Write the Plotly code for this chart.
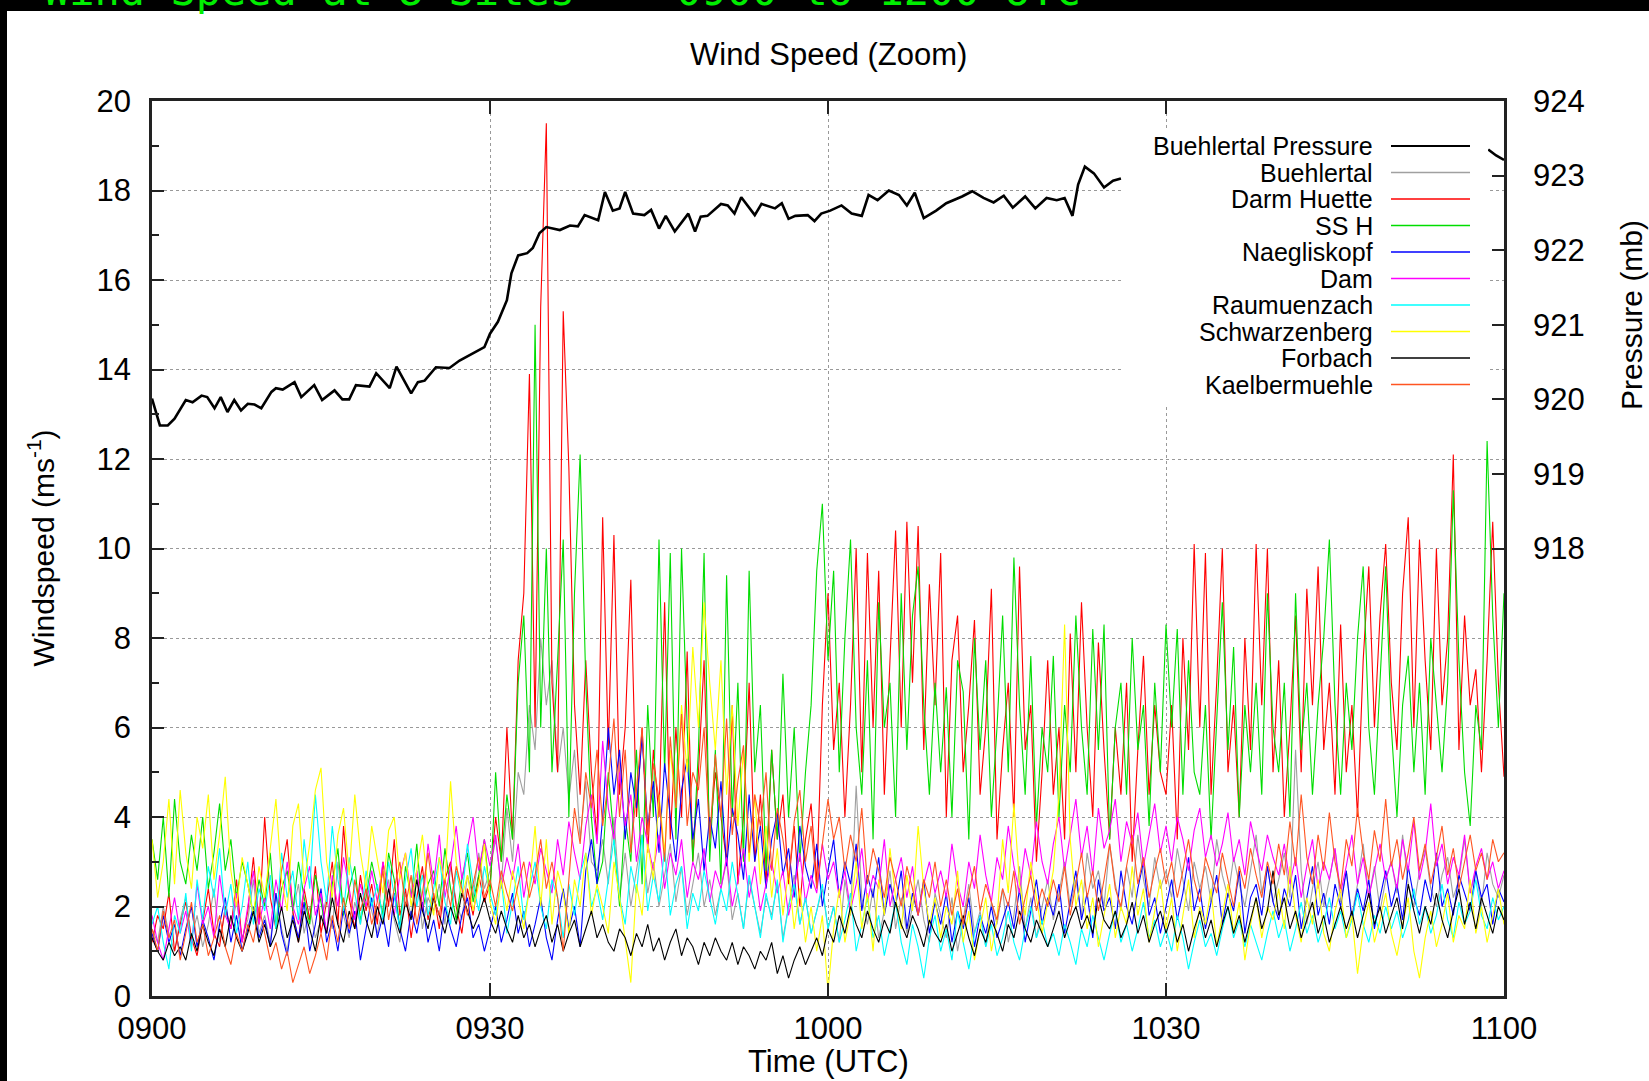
import plotly.graph_objects as go

# ---------------- data ----------------
# time axis for wind records: minutes after 09:00 UTC, 30 s sampling
t_wind = [i * 0.5 for i in range(241)]

x_tickvals = [0, 30, 60, 90, 120]
x_ticktext = ["0900", "0930", "1000", "1030", "1100"]
y_tickvals = [0, 2, 4, 6, 8, 10, 12, 14, 16, 18, 20]
y2_tickvals = [918, 919, 920, 921, 922, 923, 924]

series_names = ["Buehlertal Pressure", "Buehlertal", "Darm Huette", "SS H", "Naegliskopf",
                "Dam", "Raumuenzach", "Schwarzenberg", "Forbach", "Kaelbermuehle"]

pressure_time = [0, 0.7, 1.4, 2.0, 3.0, 3.6, 4.4, 4.9, 5.55, 6.1,
                 6.7, 7.3, 7.9, 8.5, 9.1, 9.7, 10.6, 11.0, 11.6, 12.65,
                 13.25, 14.4, 15.1, 16.2, 16.9, 17.5, 18.1, 19.3, 19.9, 21.1,
                 21.7, 23.0, 23.6, 24.2, 25.2, 26.4, 27.3, 28.5, 29.5, 30.0,
                 30.7, 31.5, 31.9, 32.5, 33.3, 33.8, 34.4, 35.0, 36.2, 37.1,
                 37.8, 38.4, 39.6, 40.2, 40.9, 41.5, 42.0, 42.7, 43.7, 44.3,
                 45.0, 45.6, 46.4, 47.6, 48.2, 48.7, 49.3, 50.5, 51.1, 51.7,
                 52.3, 53.5, 54.1, 55.3, 55.9, 56.5, 57.1, 58.2, 58.8, 59.4,
                 60.2, 61.2, 62.1, 63.0, 63.6, 64.4, 65.4, 66.3, 67.0, 67.7,
                 68.5, 69.6, 70.5, 71.9, 72.8, 73.8, 74.7, 75.6, 76.4, 77.5,
                 78.4, 79.4, 80.3, 81.0, 81.7, 82.2, 82.8, 83.6, 84.5, 85.3,
                 86.0, 102.0, 118.6, 119.3, 120.0]
pressure_mb = [920.01, 919.65, 919.65, 919.74, 919.99, 919.96, 920.05, 920.03, 919.88, 920.03,
               919.83, 919.99, 919.85, 919.94, 919.93, 919.88, 920.10, 920.15, 920.13, 920.23,
               920.03, 920.19, 919.99, 920.12, 920.00, 920.00, 920.19, 920.17, 920.35, 920.15,
               920.44, 920.08, 920.23, 920.25, 920.43, 920.42, 920.52, 920.62, 920.70, 920.88,
               921.04, 921.33, 921.69, 921.93, 921.96, 922.03, 922.23, 922.31, 922.27, 922.33,
               922.32, 922.47, 922.40, 922.78, 922.53, 922.56, 922.78, 922.49, 922.47, 922.54,
               922.29, 922.46, 922.25, 922.49, 922.25, 922.45, 922.46, 922.62, 922.60, 922.49,
               922.71, 922.47, 922.62, 922.56, 922.63, 922.42, 922.46, 922.47, 922.39, 922.49,
               922.53, 922.60, 922.49, 922.46, 922.74, 922.67, 922.80, 922.74, 922.60, 922.77,
               922.43, 922.53, 922.63, 922.72, 922.79, 922.70, 922.64, 922.73, 922.57, 922.72,
               922.56, 922.70, 922.67, 922.70, 922.46, 922.88, 923.12, 923.03, 922.84, 922.93,
               922.96, None, 923.35, 923.27, 923.21]

buehlertal = [
    1.5, 1.2, 2.0, 1.4, 1.0, 1.7, 2.2, 1.3, 1.8, 1.1, 1.6, 2.4, 1.2, 1.9, 1.5, 2.1, 1.3, 1.7, 2.6, 1.4,
    1.8, 1.2, 2.3, 1.5, 1.0, 1.9, 2.5, 1.4, 2.0, 1.3, 1.7, 2.2, 1.5, 3.0, 1.8, 1.3, 2.1, 1.6, 2.4, 1.9,
    1.4, 2.0, 2.6, 1.7, 1.2, 2.3, 1.8, 2.8, 1.5, 2.2, 1.9, 2.5, 1.6, 2.9, 2.1, 1.7, 2.7, 2.2, 3.2, 2.4,
    2.8, 3.5, 2.5, 4.2, 3.0, 5.0, 4.5, 6.5, 5.5, 8.0, 6.5, 7.5, 5.0, 6.0, 4.4, 5.5, 3.5, 4.8, 3.0, 2.8,
    3.5, 2.5, 4.0, 2.2, 3.2, 2.0, 2.8, 3.6, 2.3, 3.0, 2.0, 2.7, 3.4, 2.1, 2.9, 1.8, 2.5, 3.2, 2.0, 2.6,
    1.8, 2.4, 3.0, 1.7, 2.3, 1.5, 2.6, 2.0, 1.4, 2.2, 1.8, 2.5, 1.3, 2.0, 2.7, 1.6, 2.2, 1.4, 1.9, 2.4,
    1.5, 2.0, 1.2, 2.6, 1.8, 4.7, 2.2, 1.6, 2.4, 1.3, 1.9, 2.8, 1.5, 2.2, 1.4, 2.0, 2.6, 1.7, 1.2, 2.3,
    1.8, 1.3, 2.2, 1.0, 1.7, 2.5, 1.4, 1.9, 1.1, 2.1, 1.6, 2.4, 1.2, 1.8, 2.9, 1.5, 2.2, 1.3, 2.0, 2.6,
    1.7, 2.3, 3.0, 2.0, 2.6, 1.8, 3.2, 2.4, 2.8, 2.0, 3.4, 2.5, 1.9, 2.9, 2.2, 3.6, 2.6, 2.0, 3.1, 2.4,
    2.8, 2.2, 3.3, 2.6, 1.9, 3.0, 2.4, 2.9, 2.1, 3.5, 2.7, 2.2, 3.1, 2.5, 2.0, 2.8, 3.6, 2.3, 2.9, 2.1,
    2.6, 3.2, 2.2, 5.5, 2.8, 1.6, 2.4, 3.0, 2.0, 2.6, 3.3, 2.1, 2.8, 1.8, 2.5, 3.4, 2.2, 2.9, 1.9, 2.6,
    3.0, 2.3, 3.6, 2.5, 2.0, 2.8, 3.3, 2.4, 2.0, 2.7, 3.1, 2.2, 2.6, 3.5, 2.3, 2.8, 2.0, 3.2, 2.5, 2.2,
    2.7]

darm_huette = [
    1.2, 1.8, 1.5, 2.3, 1.0, 1.6, 2.1, 1.3, 0.9, 1.7, 2.4, 1.4, 1.1, 2.0, 1.5, 2.6, 1.2, 1.9, 3.1, 1.6,
    4.0, 2.2, 1.5, 2.8, 3.5, 1.9, 1.2, 2.4, 1.7, 2.9, 1.4, 2.1, 3.0, 1.6, 3.8, 2.2, 1.5, 2.7, 1.9, 2.5,
    1.6, 3.0, 2.0, 3.5, 1.8, 2.4, 1.3, 2.2, 2.9, 1.7, 2.3, 1.5, 2.6, 3.0, 2.0, 1.4, 2.4, 1.8, 2.7, 2.1,
    2.5, 4.0, 3.0, 6.0, 3.5, 7.5, 9.0, 13.9, 6.0, 15.4, 19.5, 7.0, 5.0, 15.3, 11.8, 6.5, 4.5, 7.5, 5.0, 3.5,
    10.7, 5.5, 10.3, 4.5, 6.0, 9.3, 4.0, 6.0, 3.2, 5.5, 4.0, 8.8, 3.5, 6.0, 4.0, 7.7, 3.0, 5.0, 7.5, 3.5,
    5.0, 4.0, 3.0, 6.5, 2.5, 4.0, 7.0, 3.0, 4.5, 2.5, 5.5, 3.5, 4.5, 2.5, 3.8, 2.0, 3.5, 4.3, 2.5, 6.5,
    9.0, 5.5, 7.0, 4.0, 6.5, 10.0, 5.0, 9.9, 6.0, 9.5, 4.5, 7.5, 10.4, 6.0, 10.6, 7.0, 10.5, 5.5, 9.2, 6.5,
    9.9, 4.0, 7.5, 8.5, 5.0, 6.5, 8.4, 4.5, 6.0, 9.1, 3.5, 5.5, 7.0, 4.0, 9.6, 5.5, 6.5, 3.0, 5.0, 7.5,
    4.5, 6.0, 3.5, 8.1, 5.0, 8.8, 6.0, 4.0, 7.9, 5.5, 3.5, 6.0, 4.5, 7.0, 3.0, 5.5, 7.6, 4.5, 6.5, 5.0,
    4.5, 6.5, 3.5, 8.0, 5.5, 10.1, 6.0, 9.9, 4.5, 7.0, 10.0, 5.0, 6.5, 4.0, 8.0, 5.5, 10.1, 6.5, 10.0, 5.0,
    7.5, 4.0, 6.0, 8.5, 5.0, 9.1, 6.5, 9.6, 5.5, 7.0, 4.5, 8.3, 5.0, 6.5, 4.0, 7.5, 9.6, 6.0, 8.5, 10.1,
    7.0, 5.5, 9.0, 10.7, 6.0, 10.2, 7.5, 5.5, 10.0, 6.5, 8.0, 12.1, 5.5, 8.5, 6.5, 7.3, 5.0, 7.5, 10.6, 7.0,
    4.9]

ss_h = [
    3.5, 2.6, 4.0, 2.2, 4.4, 3.0, 2.5, 3.6, 2.8, 4.0, 2.4, 3.2, 4.3, 2.8, 3.5, 2.2, 3.0, 2.5, 1.8, 2.6,
    2.0, 3.2, 1.5, 2.4, 2.8, 1.9, 3.0, 2.2, 1.6, 2.7, 2.1, 1.4, 2.5, 3.3, 1.8, 2.4, 2.9, 1.7, 2.2, 3.0,
    2.4, 1.8, 3.2, 2.6, 1.5, 2.9, 2.2, 3.4, 1.9, 2.5, 2.8, 2.0, 3.3, 2.4, 1.7, 2.6, 3.2, 2.1, 2.7, 3.5,
    2.2, 5.0, 3.0, 4.5, 3.5, 7.0, 8.5, 5.0, 15.0, 6.0, 10.0, 5.0, 7.5, 10.2, 4.0, 9.0, 12.1, 7.0, 4.0, 2.5,
    3.0, 5.0, 3.5, 2.0, 4.0, 3.0, 5.5, 2.5, 6.5, 4.0, 10.2, 5.0, 9.9, 3.5, 10.0, 6.0, 3.0, 5.5, 9.9, 3.0,
    5.5, 2.5, 9.4, 4.0, 7.0, 3.0, 9.5, 5.0, 6.5, 2.8, 5.5, 3.5, 7.2, 4.0, 6.0, 3.0, 5.0, 6.5, 9.5, 11.0,
    7.5, 9.5, 5.0, 8.0, 10.2, 6.0, 4.5, 7.5, 3.5, 8.8, 6.0, 7.0, 4.0, 9.0, 5.5, 8.5, 9.6, 6.5, 4.5, 7.0,
    5.0, 6.9, 4.0, 7.5, 6.8, 3.5, 8.0, 5.5, 7.5, 4.0, 6.0, 8.5, 5.0, 9.8, 6.5, 4.5, 7.6, 3.8, 6.0, 5.0,
    7.6, 4.0, 6.5, 5.0, 8.5, 6.0, 4.5, 8.2, 5.5, 8.3, 3.5, 6.0, 7.0, 4.5, 8.0, 5.5, 6.5, 3.8, 7.0, 5.0,
    8.3, 6.0, 8.2, 4.5, 7.5, 5.0, 4.5, 6.5, 3.5, 6.0, 8.8, 5.5, 7.8, 4.0, 6.5, 5.0, 7.0, 4.5, 9.0, 6.0,
    5.0, 7.0, 4.0, 9.0, 5.5, 7.0, 4.5, 6.5, 8.0, 10.2, 6.5, 4.5, 7.0, 5.5, 8.0, 9.6, 6.0, 4.5, 7.0, 9.6,
    6.0, 4.0, 6.5, 7.6, 5.0, 7.0, 4.5, 8.0, 6.5, 5.0, 7.0, 11.3, 7.5, 5.0, 3.8, 6.5, 5.5, 12.4, 8.5, 6.0,
    9.0]

naegliskopf = [
    1.4, 1.0, 1.8, 1.2, 1.6, 0.9, 1.5, 2.0, 1.1, 1.7, 1.3, 0.8, 1.6, 2.2, 1.2, 1.8, 1.0, 1.5, 2.0, 1.3,
    1.7, 1.1, 2.3, 1.4, 0.9, 1.8, 1.3, 2.1, 1.0, 1.6, 2.4, 1.2, 1.7, 1.0, 2.0, 1.4, 1.9, 0.8, 1.5, 2.2,
    1.3, 1.8, 1.1, 2.3, 1.5, 1.0, 1.9, 1.4, 2.1, 1.2, 1.7, 1.0, 2.0, 1.5, 1.1, 1.8, 2.2, 1.3, 1.6, 1.0,
    1.5, 2.0, 1.2, 1.7, 2.3, 1.4, 1.9, 1.1, 1.6, 2.2, 1.3, 0.8, 1.7, 2.4, 1.5, 2.0, 1.1, 2.8, 3.5, 2.5,
    4.0, 6.0, 4.5, 5.5, 3.5, 5.0, 4.2, 5.8, 3.8, 4.8, 3.2, 5.2, 4.0, 3.0, 4.6, 5.3, 3.5, 4.4, 2.8, 4.0,
    3.3, 4.8, 2.9, 4.2, 3.6, 2.6, 4.5, 3.0, 3.8, 2.4, 3.5, 4.1, 2.7, 3.3, 2.2, 3.8, 2.9, 2.4, 3.4, 2.0,
    2.8, 3.5, 2.2, 3.0, 2.5, 3.4, 1.9, 2.7, 2.2, 3.1, 1.8, 2.5, 2.0, 2.8, 1.5, 2.3, 1.8, 2.6, 1.4, 2.1,
    1.6, 2.3, 1.2, 1.9, 1.5, 2.2, 1.1, 1.8, 1.4, 2.0, 1.3, 1.7, 2.1, 1.5, 2.4, 1.2, 1.9, 2.6, 1.6, 2.2,
    1.8, 2.5, 1.4, 2.1, 2.8, 1.7, 2.3, 1.3, 2.6, 1.9, 2.2, 1.5, 2.8, 2.0, 1.6, 2.4, 3.0, 1.8, 2.2, 1.4,
    2.0, 2.6, 1.7, 2.3, 3.1, 1.9, 2.4, 1.5, 2.1, 2.7, 1.6, 2.3, 1.9, 2.8, 1.4, 2.2, 2.5, 1.8, 2.9, 2.1,
    1.7, 2.4, 2.0, 2.7, 1.5, 2.2, 2.9, 1.8, 2.3, 1.6, 2.5, 2.0, 2.8, 1.7, 2.4, 1.9, 2.6, 1.5, 2.2, 2.8,
    2.0, 2.5, 1.7, 2.9, 2.2, 1.8, 2.6, 2.1, 3.2, 2.0, 2.4, 1.8, 2.7, 2.3, 1.9, 2.8, 2.2, 2.5, 1.6, 2.4,
    2.1]

dam = [
    1.8, 1.2, 0.8, 1.5, 2.2, 1.4, 1.9, 1.1, 2.5, 1.6, 2.0, 1.3, 2.7, 1.8, 1.5, 2.3, 1.2, 2.0, 2.8, 1.6,
    2.2, 1.5, 2.6, 1.9, 3.0, 2.0, 1.6, 2.4, 2.9, 1.8, 2.3, 1.4, 2.7, 2.0, 3.1, 2.4, 1.7, 2.5, 2.0, 2.8,
    2.1, 3.0, 2.4, 1.8, 2.7, 3.2, 2.2, 2.8, 1.9, 3.4, 2.5, 3.6, 2.2, 2.9, 3.8, 2.6, 3.3, 4.0, 2.8, 3.5,
    2.9, 3.6, 2.4, 3.1, 2.6, 3.4, 2.2, 3.0, 2.5, 3.3, 2.8, 2.3, 3.5, 2.7, 3.9, 3.2, 2.6, 3.8, 4.5, 3.4,
    5.7, 4.2, 3.5, 5.0, 3.8, 4.5, 3.0, 4.0, 3.4, 2.8, 3.6, 2.4, 3.2, 2.7, 3.5, 2.2, 3.0, 2.6, 3.3, 2.1,
    2.8, 2.4, 3.1, 2.0, 2.6, 3.3, 2.2, 2.9, 1.9, 2.5, 3.0, 2.3, 2.8, 1.8, 2.4, 3.2, 2.1, 2.7, 2.3, 3.4,
    2.6, 3.0, 2.2, 2.8, 1.9, 2.5, 3.3, 2.1, 2.7, 2.4, 3.5, 2.0, 2.6, 3.1, 2.2, 2.9, 1.8, 2.5, 3.0, 2.3,
    2.8, 2.2, 3.4, 2.5, 2.0, 3.0, 2.4, 3.6, 2.7, 2.1, 3.1, 2.6, 3.8, 2.9, 2.3, 3.3, 2.7, 3.9, 3.0, 2.5,
    3.4, 4.0, 2.8, 3.6, 4.4, 3.1, 3.8, 2.7, 4.2, 3.3, 3.7, 4.4, 3.0, 3.9, 3.4, 4.1, 2.9, 3.6, 4.3, 3.2,
    3.8, 3.0, 4.0, 3.5, 2.8, 3.7, 4.2, 3.1, 3.6, 2.9, 3.4, 4.1, 3.0, 3.5, 2.7, 3.9, 3.3, 2.8, 3.6, 3.1,
    2.7, 3.4, 2.5, 3.1, 2.2, 2.9, 3.5, 2.4, 3.0, 2.6, 3.3, 2.3, 2.9, 3.6, 2.5, 3.1, 2.2, 2.8, 3.4, 2.6,
    3.0, 2.4, 3.5, 2.8, 3.9, 2.6, 3.2, 4.3, 2.9, 3.4, 2.5, 3.1, 2.7, 3.6, 2.3, 2.9, 3.3, 2.6, 3.0, 2.4,
    2.8]

raumuenzach = [
    1.6, 2.0, 1.2, 0.6, 1.8, 1.4, 2.3, 1.0, 2.6, 1.7, 2.9, 2.2, 3.3, 1.8, 2.5, 1.4, 2.0, 3.0, 1.6, 2.4,
    1.9, 2.7, 1.5, 3.2, 2.2, 2.8, 1.7, 3.5, 2.4, 4.5, 3.0, 2.1, 3.8, 2.6, 1.9, 3.1, 2.3, 1.6, 2.8, 2.0,
    2.5, 1.7, 3.0, 2.2, 1.5, 2.6, 3.3, 2.0, 2.7, 1.8, 2.4, 3.1, 2.1, 1.6, 2.8, 2.2, 3.4, 2.5, 1.9, 2.9,
    2.3, 1.8, 2.6, 1.4, 2.1, 2.9, 1.7, 2.4, 3.0, 2.0, 1.5, 2.6, 2.2, 1.3, 2.5, 1.8, 2.7, 3.2, 2.0, 2.4,
    1.7, 2.6, 3.5, 2.2, 1.6, 2.9, 2.3, 3.6, 1.9, 2.7, 2.1, 3.3, 1.8, 2.5, 2.9, 1.5, 2.3, 1.9, 2.8, 2.2,
    1.6, 2.4, 1.9, 3.0, 2.2, 1.5, 2.7, 2.0, 1.3, 2.3, 1.7, 2.6, 1.2, 2.0, 2.5, 1.6, 2.2, 1.4, 1.9, 2.5,
    1.5, 2.0, 1.2, 1.7, 2.3, 1.0, 1.6, 2.2, 1.3, 1.8, 0.9, 1.5, 2.1, 1.2, 0.7, 1.6, 1.1, 0.4, 1.3, 1.8,
    1.0, 1.5, 0.8, 1.9, 1.2, 0.6, 1.4, 1.8, 1.1, 1.6, 0.9, 1.3, 1.9, 1.2, 0.8, 1.5, 2.0, 1.3, 1.7, 1.1,
    1.4, 0.9, 1.6, 1.2, 0.7, 1.5, 1.1, 1.8, 1.3, 0.8, 1.4, 1.9, 1.2, 1.6, 1.0, 1.5, 2.1, 1.3, 1.7, 1.1,
    1.5, 1.0, 1.8, 1.3, 0.6, 1.2, 1.7, 1.1, 1.4, 0.9, 1.5, 2.0, 1.3, 1.7, 1.1, 1.6, 1.2, 0.8, 1.4, 1.9,
    1.3, 1.7, 1.0, 1.5, 2.1, 1.4, 1.8, 1.2, 1.6, 2.2, 1.5, 1.9, 1.3, 1.7, 2.3, 1.6, 1.2, 1.8, 1.4, 2.0,
    1.5, 1.9, 1.3, 1.7, 2.4, 1.6, 2.0, 1.4, 1.8, 2.5, 1.7, 1.3, 2.1, 1.6, 1.9, 2.6, 1.8, 1.5, 2.2, 1.7,
    2.0]

schwarzenberg = [
    3.5, 2.2, 3.0, 4.4, 2.5, 4.6, 3.2, 2.4, 4.0, 3.3, 4.5, 2.6, 3.6, 4.9, 2.8, 2.0, 3.1, 2.5, 1.8, 2.9,
    2.2, 3.3, 4.4, 2.6, 1.9, 3.8, 4.3, 2.5, 3.4, 4.6, 5.1, 3.0, 2.2, 3.6, 4.2, 2.7, 4.5, 3.2, 2.4, 3.8,
    3.0, 2.3, 3.7, 4.0, 2.6, 3.2, 2.0, 2.8, 3.6, 2.4, 1.8, 3.1, 2.5, 4.8, 3.0, 2.2, 2.7, 1.9, 2.5, 3.4,
    2.1, 1.6, 2.6, 1.9, 2.8, 2.2, 1.5, 2.4, 3.8, 2.0, 3.5, 1.6, 2.8, 2.3, 1.4, 2.6, 2.0, 3.2, 1.8, 2.5,
    2.0, 1.4, 3.0, 2.2, 1.2, 0.3, 2.5, 1.8, 3.4, 2.6, 4.5, 3.2, 5.5, 4.2, 6.5, 5.0, 7.8, 6.0, 8.8, 7.0,
    5.5, 7.5, 4.5, 6.5, 3.8, 5.5, 3.0, 4.5, 2.5, 3.8, 2.2, 3.3, 1.8, 2.8, 1.5, 2.4, 1.2, 2.0, 1.0, 1.8,
    0.1, 1.5, 2.4, 1.2, 1.9, 3.0, 1.5, 2.3, 1.0, 2.6, 1.8, 3.3, 2.2, 1.5, 2.7, 1.9, 3.8, 2.4, 1.6, 2.2,
    1.3, 2.0, 1.6, 2.8, 1.2, 1.9, 0.8, 1.5, 2.2, 1.0, 1.7, 3.5, 2.3, 4.3, 2.5, 1.8, 3.0, 2.2, 1.4, 2.1,
    2.8, 4.5, 8.3, 3.5, 2.0, 2.6, 1.5, 2.2, 1.1, 1.8, 2.5, 1.3, 2.0, 1.6, 2.9, 1.8, 2.4, 1.2, 1.9, 2.6,
    1.5, 2.2, 1.0, 1.8, 2.6, 1.3, 2.0, 1.6, 2.4, 1.1, 1.8, 2.5, 1.4, 2.1, 0.8, 1.6, 2.2, 1.3, 2.0, 1.7,
    2.4, 1.5, 2.9, 1.8, 1.2, 2.2, 1.6, 2.6, 1.4, 1.0, 1.9, 2.4, 1.3, 1.8, 0.5, 1.5, 2.1, 1.2, 1.7, 2.3,
    1.4, 0.9, 1.6, 2.2, 1.0, 0.4, 1.3, 1.9, 1.1, 1.6, 2.3, 1.2, 1.8, 1.5, 2.6, 1.4, 2.0, 1.2, 1.8, 2.4,
    1.6]

forbach = [
    1.3, 1.0, 0.8, 1.2, 0.9, 1.1, 0.8, 1.4, 1.0, 1.6, 1.2, 0.9, 1.5, 1.1, 1.8, 1.3, 1.0, 1.4, 1.9, 1.2,
    1.6, 1.1, 1.4, 2.0, 1.3, 1.7, 1.2, 1.9, 1.5, 1.0, 1.8, 1.4, 2.2, 1.6, 1.2, 1.9, 1.5, 2.3, 1.7, 1.3,
    2.0, 1.6, 2.4, 1.8, 1.4, 2.1, 1.7, 2.6, 1.9, 1.5, 2.2, 1.8, 1.4, 2.0, 1.6, 2.3, 1.9, 1.5, 1.8, 2.2,
    1.7, 1.4, 1.9, 1.5, 1.2, 1.8, 1.3, 1.6, 1.1, 1.5, 1.8, 1.2, 1.6, 1.0, 1.4, 1.7, 1.1, 1.5, 1.9, 1.3,
    1.6, 1.2, 1.0, 1.5, 1.3, 0.9, 1.4, 1.1, 1.6, 1.0, 1.3, 0.8, 1.2, 1.5, 0.9, 1.3, 1.1, 0.7, 1.2, 0.9,
    1.3, 1.0, 0.8, 1.2, 0.7, 1.1, 0.9, 0.6, 1.0, 0.8, 1.2, 0.5, 0.9, 0.4, 0.8, 1.1, 0.7, 1.0, 1.3, 0.9,
    1.5, 1.2, 1.8, 1.4, 2.0, 1.6, 1.3, 1.9, 1.5, 1.2, 1.7, 1.4, 2.1, 1.6, 1.3, 1.8, 1.5, 1.1, 1.7, 1.4,
    1.2, 1.6, 1.0, 1.4, 1.8, 1.3, 0.9, 1.5, 1.2, 1.7, 1.4, 1.0, 1.6, 1.3, 1.9, 1.5, 1.2, 1.7, 1.4, 1.1,
    1.5, 1.9, 1.3, 1.7, 2.0, 1.5, 1.8, 1.4, 2.2, 1.7, 1.5, 1.9, 1.3, 1.6, 2.1, 1.4, 1.8, 1.2, 1.6, 1.9,
    1.4, 1.8, 1.2, 1.6, 1.0, 1.5, 1.9, 1.3, 1.7, 1.1, 1.6, 2.0, 1.4, 1.8, 1.2, 1.7, 2.2, 1.5, 1.9, 2.8,
    1.8, 2.2, 1.5, 1.9, 1.3, 1.7, 2.1, 1.4, 1.8, 1.2, 1.6, 2.0, 1.5, 1.9, 1.3, 1.8, 2.3, 1.6, 2.0, 1.4,
    1.8, 2.2, 1.5, 2.5, 1.9, 1.4, 2.0, 1.6, 2.3, 1.7, 1.3, 1.9, 2.4, 1.6, 2.1, 1.5, 2.2, 1.8, 1.4, 2.0,
    1.7]

kaelbermuehle = [
    1.5, 1.0, 1.9, 1.3, 1.7, 0.8, 1.4, 2.1, 1.2, 1.6, 0.9, 1.3, 1.8, 1.1, 0.7, 1.4, 1.0, 1.6, 1.2, 2.0,
    1.4, 0.8, 1.2, 0.6, 1.0, 0.3, 0.7, 1.1, 0.5, 0.9, 1.4, 0.8, 1.8, 1.2, 2.2, 1.5, 2.6, 1.9, 2.4, 1.6,
    2.1, 2.8, 1.7, 2.4, 3.0, 2.0, 2.7, 1.6, 2.3, 3.2, 2.2, 1.8, 2.6, 2.0, 2.9, 2.4, 1.8, 2.5, 3.1, 2.2,
    2.6, 2.0, 2.8, 2.3, 1.9, 2.5, 3.0, 2.2, 2.7, 3.5, 2.4, 3.0, 2.2, 1.0, 2.6, 4.2, 3.4, 5.0, 4.2, 5.5,
    3.8, 4.8, 6.2, 4.0, 5.5, 3.2, 4.6, 6.0, 3.6, 5.2, 4.4, 3.0, 5.8, 4.2, 6.3, 3.8, 5.0, 4.6, 6.0, 3.5,
    5.4, 4.0, 6.2, 3.6, 4.8, 5.6, 3.2, 4.5, 3.8, 5.0, 2.8, 4.2, 3.5, 2.6, 3.9, 4.6, 3.0, 3.8, 2.4, 3.4,
    4.4, 3.5, 4.0, 2.8, 3.6, 3.0, 4.2, 2.5, 3.3, 2.8, 2.2, 3.1, 2.6, 2.0, 2.9, 2.4, 1.8, 2.6, 2.2, 3.0,
    2.0, 2.6, 1.8, 2.4, 1.6, 2.3, 2.9, 1.9, 2.5, 2.1, 1.7, 2.4, 2.0, 2.8, 1.6, 2.2, 2.7, 1.9, 2.4, 2.0,
    2.6, 2.1, 2.9, 1.8, 2.5, 3.2, 2.2, 2.8, 1.9, 2.6, 3.4, 2.4, 2.0, 2.9, 3.6, 2.5, 3.1, 2.2, 2.8, 3.3,
    2.5, 3.0, 2.2, 2.8, 3.5, 2.6, 2.1, 3.1, 2.7, 2.3, 3.2, 2.6, 2.0, 2.9, 2.4, 3.3, 2.7, 2.2, 3.0, 2.5,
    3.4, 2.7, 3.9, 2.9, 4.5, 3.1, 2.5, 3.6, 2.8, 4.1, 3.0, 2.4, 3.5, 2.9, 4.2, 3.2, 2.6, 3.7, 3.0, 4.4,
    2.9, 3.5, 2.6, 3.2, 4.0, 2.8, 3.4, 2.5, 3.1, 3.8, 2.7, 3.3, 2.4, 3.0, 3.6, 2.8, 3.2, 2.6, 3.5, 3.0,
    3.2]

wind_series = [buehlertal, darm_huette, ss_h, naegliskopf, dam,
               raumuenzach, schwarzenberg, forbach, kaelbermuehle]

# ---------------- styling ----------------
colors = ["#000000", "#a0a0a0", "#ff0000", "#00dd00", "#0000ff",
          "#ff00ff", "#00ffff", "#ffff00", "#000000", "#ff5522"]
FONT = "Liberation Sans, Arial, Helvetica, sans-serif"

W, H = 1649, 1081
ML, MR, MT, MB = 152, 145, 101, 85
PW, PH = W - ML - MR, H - MT - MB


def px(x):
    return (x - ML) / PW


def py(y):
    return (H - MB - y) / PH


fig = go.Figure()

fig.add_trace(go.Scatter(x=pressure_time, y=pressure_mb, yaxis="y2", mode="lines",
                         line=dict(color=colors[0], width=2.6), connectgaps=False,
                         name=series_names[0], showlegend=False))
for i, vals in enumerate(wind_series):
    fig.add_trace(go.Scatter(x=t_wind[:len(vals)], y=vals, mode="lines",
                             line=dict(color=colors[i + 1], width=1.1),
                             name=series_names[i + 1], showlegend=False))

shapes = []
annotations = []

# outer black frame strips
shapes.append(dict(type="rect", xref="paper", yref="paper", x0=px(-5), x1=px(W + 5),
                   y0=py(11), y1=py(-5), fillcolor="black", line=dict(width=0), layer="below"))
shapes.append(dict(type="rect", xref="paper", yref="paper", x0=px(-5), x1=px(7),
                   y0=py(H + 5), y1=py(-5), fillcolor="black", line=dict(width=0), layer="below"))

# key box (opaque)
shapes.append(dict(type="rect", xref="paper", yref="paper", x0=px(1123), x1=px(1488),
                   y0=py(404), y1=py(128), fillcolor="white", line=dict(width=0), layer="above"))

row0, drow = 146, 26.5
for i, name in enumerate(series_names):
    yc = row0 + i * drow
    annotations.append(dict(xref="paper", yref="paper", x=px(1374), y=py(yc), text=name,
                            showarrow=False, xanchor="right", yanchor="middle", borderpad=0,
                            font=dict(family=FONT, size=25, color="black")))
    shapes.append(dict(type="line", xref="paper", yref="paper", x0=px(1391), x1=px(1470),
                       y0=py(yc), y1=py(yc), layer="above",
                       line=dict(color=colors[i], width=2.2 if i == 0 else 1.4)))

# titles
annotations.append(dict(xref="paper", yref="paper", x=0.5, y=py(55), text="Wind Speed (Zoom)",
                        showarrow=False, xanchor="center", yanchor="middle",
                        font=dict(family=FONT, size=31, color="black")))
annotations.append(dict(xref="paper", yref="paper", x=0.5, y=py(1061), text="Time (UTC)",
                        showarrow=False, xanchor="center", yanchor="middle", borderpad=0,
                        font=dict(family=FONT, size=31, color="black")))
annotations.append(dict(xref="paper", yref="paper", x=px(41), y=0.5,
                        text="Windspeed (ms<sup>-1</sup>)", textangle=-90,
                        showarrow=False, xanchor="center", yanchor="middle",
                        font=dict(family=FONT, size=30, color="black")))
annotations.append(dict(xref="paper", yref="paper", x=px(1631), y=py(315),
                        text="Pressure (mb)", textangle=-90,
                        showarrow=False, xanchor="center", yanchor="middle",
                        font=dict(family=FONT, size=30, color="black")))
annotations.append(dict(xref="paper", yref="paper", x=px(42), y=py(17),
                        text="Wind Speed at 8 Sites -- 0900 to 1200 UTC",
                        showarrow=False, xanchor="left", yanchor="bottom",
                        font=dict(family="DejaVu Sans Mono, monospace", size=42, color="#00ee00")))

axis_line = dict(showline=True, linecolor="#222222", linewidth=2.5)
tickfont = dict(family=FONT, size=31, color="black")

fig.update_layout(
    width=W, height=H, autosize=False,
    margin=dict(l=ML, r=MR, t=MT, b=MB),
    paper_bgcolor="white", plot_bgcolor="white",
    shapes=shapes, annotations=annotations,
    showlegend=False,
    xaxis=dict(range=[0, 120], tickvals=x_tickvals, ticktext=x_ticktext, ticks="inside",
               ticklen=13, tickwidth=2, tickcolor="#222222", mirror="ticks",
               showgrid=True, gridcolor="#999999", griddash="dot", gridwidth=1,
               zeroline=False, tickfont=tickfont, ticklabelstandoff=3, **axis_line),
    yaxis=dict(range=[0, 20], tickvals=y_tickvals, ticks="inside", ticklen=12, tickwidth=2,
               tickcolor="#222222", showgrid=True, gridcolor="#999999", griddash="dot",
               gridwidth=1, zeroline=False, tickfont=tickfont, ticklabelstandoff=12,
               minor=dict(ticks="inside", dtick=1, ticklen=7, tickcolor="#222222",
                          tickwidth=2, showgrid=False),
               **axis_line),
    yaxis2=dict(range=[912, 924], tickvals=y2_tickvals, overlaying="y", side="right",
                ticks="inside", ticklen=12, tickwidth=2, tickcolor="#222222",
                showgrid=False, zeroline=False, tickfont=tickfont, ticklabelstandoff=20,
                **axis_line),
)

fig.write_html("out.html")
